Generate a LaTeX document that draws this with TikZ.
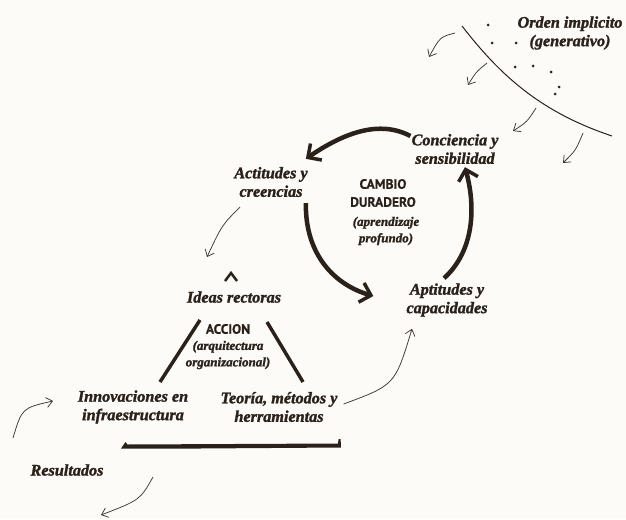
\documentclass[tikz,border=0pt]{standalone}
\usepackage{fontspec}
\setmainfont{Liberation Serif}[BoldItalicFeatures={FakeBold=1.6}]
\newfontfamily\capsfont{PT Sans}[BoldFeatures={FakeBold=0.6}]
\usetikzlibrary{arrows.meta}
\definecolor{ink}{HTML}{2B211B}
\definecolor{paper}{HTML}{FCFBF7}
\begin{document}
\begin{tikzpicture}[x=1pt,y=-1pt,
  lbl/.style={font=\fontsize{16.2}{18.5}\selectfont\bfseries\itshape, text=ink, align=center, inner sep=0pt},
  small/.style={font=\fontsize{13}{16.5}\selectfont\bfseries\itshape, text=ink, align=center, inner sep=0pt},
  caps/.style={font=\fontsize{13.5}{18}\selectfont\capsfont\bfseries, text=ink, align=center, inner sep=0pt},
  fine/.style={draw=ink!90, line width=0.75pt, -{Straight Barb[length=6pt,width=10pt]}},
  heavy/.style={draw=ink, line width=4.5pt, -{Straight Barb[length=10pt,width=20pt,line width=3.5pt]}},
  dot/.style={fill=ink, circle, inner sep=0pt, minimum size=3pt},
]
\fill[paper] (0,0) rectangle (626,519);
\useasboundingbox (0,0) rectangle (626,519);

% texts
\node[lbl] (orden) at (570,33) {Orden implicito\\(generativo)};
\node[lbl] (conc) at (455,149) {Conciencia y\\sensibilidad};
\node[lbl] (act) at (271,182) {Actitudes y\\creencias};
\node[caps] (cambio) at (383,193) {CAMBIO\\DURADERO};
\node[small] (apr) at (386,231) {(aprendizaje\\profundo)};
\node[lbl] (apt) at (447,300) {Aptitudes y\\capacidades};
\node[lbl] (ideas) at (234,297) {Ideas rectoras};
\node[caps] (accion) at (228,329) {ACCION};
\node[small] (arq) at (228,355) {(arquitectura\\organizacional)};
\node[lbl] (innov) at (133,407) {Innovaciones en\\infraestructura};
\node[lbl] (teoria) at (279,407) {Teoría, métodos y\\herramientas};
\node[lbl] (res) at (67,470) {Resultados};

% boundary of the implicit order and its seeds
\draw[ink, line width=1pt] (462,26) .. controls (500,75) and (540,112) .. (612,136);
\foreach \p in {(488,25),(492,43),(516,43),(515,67),(533,66),(551,72),(559,87),(555,94)}
  \node[dot] at \p {};

% unfolding arrows
\coordinate (u1a) at (455,33);  \coordinate (u1b) at (429,57);
\coordinate (u2a) at (487,63);  \coordinate (u2b) at (468,85);
\coordinate (u3a) at (536,108); \coordinate (u3b) at (513,131);
\coordinate (u4a) at (583,133); \coordinate (u4b) at (563,163);
\draw[fine] (u1a) .. controls (440,37) .. (u1b);
\draw[fine] (u2a) .. controls (476,72) .. (u2b);
\draw[fine] (u3a) .. controls (527,122) .. (u3b);
\draw[fine] (u4a) .. controls (576,150) .. (u4b);

% deep learning cycle
\draw[heavy] ([xshift=-1pt,yshift=13pt]conc.west) .. controls (380,120) and (345,132) .. ([xshift=-2pt,yshift=8pt]act.north east);
\draw[heavy] ([xshift=-2pt,yshift=-6pt]act.south east) .. controls (305,255) and (335,285) .. ([xshift=-33pt,yshift=4pt]apt.west);
\draw[heavy] ([xshift=-3pt,yshift=5pt]apt.north) .. controls (470,255) and (478,215) .. ([xshift=10pt,yshift=-3pt]conc.south);

% action triangle
\draw[ink, line width=2.5pt] (225,281) -- (231,273) -- (237,281);
\draw[ink, line width=3.5pt] (200,320) -- (160,382);
\draw[ink, line width=3.5pt] (267,322) -- (303,382);
\fill[ink] (121,448.5) -- (125.5,442) -- (127.5,444.5) -- (338,443.5) -- (338.6,439) -- (340.6,439.2) -- (341,447.5) -- (200,448.5) -- cycle;

% links toward and from results
\coordinate (lres) at (13,438);
\coordinate (ltip) at (53,401);
\coordinate (bres) at (153,477);
\coordinate (bend) at (101,515);
\draw[fine] ([xshift=-3pt]act.south) ++(-28,10) .. controls (222,225) .. (207,257);
\draw[fine] ([xshift=6pt,yshift=3pt]teoria.east) .. controls (395,385) .. ([xshift=-35pt,yshift=-12pt]apt.south);
\draw[fine] (lres) .. controls (22,408) .. (ltip);
\draw[fine] (bres) .. controls (140,500) .. (bend);
\end{tikzpicture}
\end{document}
